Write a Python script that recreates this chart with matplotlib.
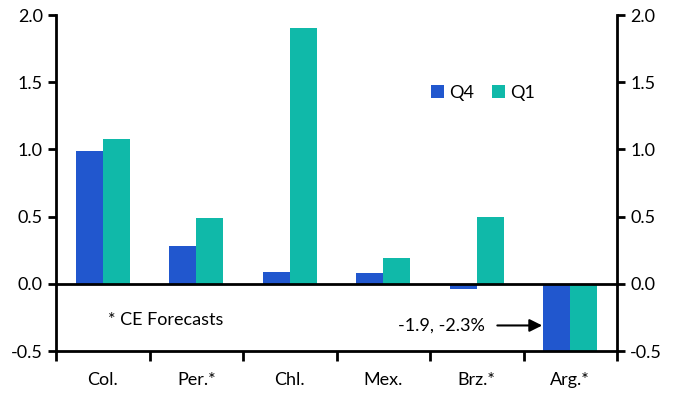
import numpy as np
import matplotlib.pyplot as plt

plt.rcParams['font.family'] = ['Lato', 'DejaVu Sans']

# valeurs
pays = ['Col.', 'Per.*', 'Chl.', 'Mex.', 'Brz.*', 'Arg.*']
q4 = [0.99, 0.28, 0.09, 0.08, -0.04, -1.9]
q1 = [1.08, 0.49, 1.90, 0.19, 0.50, -2.3]

bleu = '#2157CE'
vert = '#10B9A9'

fig = plt.figure(figsize=(6.77, 3.97), dpi=100)
ax = fig.add_axes([56/677, 46/397, 561/677, 336/397])

x = np.arange(len(pays))
w = 0.29
ax.bar(x - w/2, q4, w, color=bleu, label='Q4')
ax.bar(x + w/2, q1, w, color=vert, label='Q1')

ax.set_xlim(-0.5, len(pays) - 0.5)
ax.set_ylim(-0.5, 2.0)
ax.axhline(0, color='black', lw=2)

ax.set_yticks(np.arange(-0.5, 2.01, 0.5))
ax.set_yticklabels([f'{v:.1f}' for v in np.arange(-0.5, 2.01, 0.5)])
ax.tick_params(axis='y', which='both', left=True, right=True, labelleft=True, labelright=True,
               direction='out', length=6, width=2, labelsize=13)
ax.set_xticks(x)
ax.set_xticklabels(pays)
ax.set_xticks(np.arange(-0.5, len(pays), 1), minor=True)
ax.tick_params(axis='x', which='major', length=0, labelsize=13, pad=15)
ax.tick_params(axis='x', which='minor', length=7, width=2, direction='out')

for s in ['left', 'right', 'bottom']:
    ax.spines[s].set_linewidth(2)
ax.spines['top'].set_visible(False)

ax.text(0.06, -0.27, '* CE Forecasts', fontsize=13, va='center')
ax.text(3.16, -0.31, '-1.9, -2.3%', fontsize=13, va='center')
ax.annotate('', xy=(4.7, -0.31), xytext=(4.22, -0.31),
            arrowprops=dict(arrowstyle='-|>', color='black', lw=1.5, mutation_scale=19,
                            shrinkA=0, shrinkB=0))

ax.legend(loc='upper left', bbox_to_anchor=(0.64, 0.84), ncol=2, frameon=False, fontsize=13,
          handlelength=0.7, handleheight=0.7, handletextpad=0.3, columnspacing=1.0)

fig.savefig('out.png', dpi=100)
